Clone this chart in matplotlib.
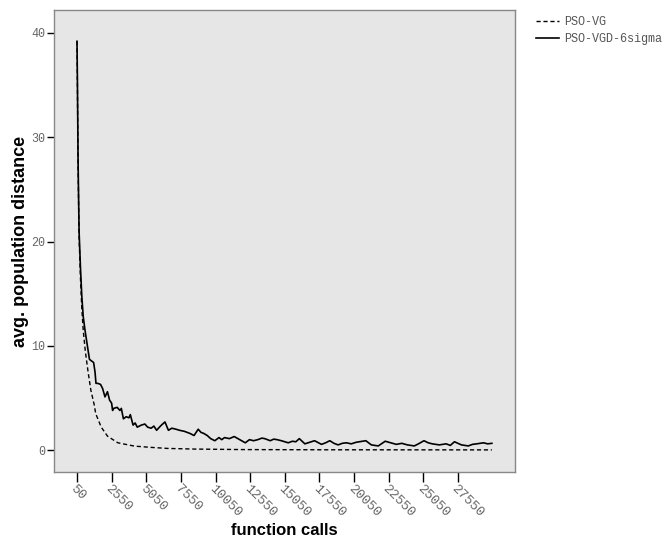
import matplotlib
matplotlib.use("Agg")
import matplotlib.pyplot as plt

# PSO-VGD-6sigma (solid)
calls_solid = [50, 80, 130, 200, 300, 400, 500, 628, 800, 950, 1050, 1250, 1350, 1420, 1550, 1750,
               1900, 2070, 2250, 2400, 2550, 2620, 2700, 2950, 3150, 3250, 3400, 3600, 3800, 3900,
               4100, 4250, 4400, 4700, 4950, 5150, 5400, 5600, 5800, 6000, 6150, 6400, 6650, 6900,
               7200, 7450, 7800, 8200, 8500, 8800, 9000, 9200, 9450,
               9700, 10000, 10300, 10500, 10700, 11050, 11400, 11800, 12200, 12500, 12800, 13100,
               13400, 13600, 14000, 14250,
               14500, 14800, 15300, 15600, 15850, 16100, 16500, 16850, 17200, 17700, 18000, 18300,
               18600, 18900, 19200, 19500, 19850, 20200,
               20900, 21300, 21800, 22300, 22700, 23100, 23500, 23900, 24400, 24700, 25100, 25400,
               25700, 26200, 26700, 27000, 27300,
               27800, 28300, 28600, 28900, 29400, 29700, 30000]
dist_solid = [39.2, 35.5, 27.5, 21.0, 17.5, 14.7, 12.8, 11.5, 10.0, 8.7, 8.6, 8.4, 7.5, 6.4, 6.4, 6.3,
              5.9, 5.1, 5.6, 4.8, 4.5, 3.8, 4.0, 4.1, 3.8, 4.0, 3.0, 3.2, 3.1, 3.4,
              2.4, 2.6, 2.2, 2.4, 2.5, 2.2, 2.1, 2.3, 1.9, 2.2, 2.4, 2.7, 1.9, 2.1,
              2.0, 1.9, 1.8, 1.6, 1.4, 2.0, 1.7, 1.6, 1.4,
              1.1, 0.9, 1.2, 1.0, 1.2, 1.1, 1.3, 1.0, 0.7, 1.0, 0.9, 1.0,
              1.15, 1.1, 0.9, 1.05,
              1.0, 0.9, 0.7, 0.85, 0.8, 1.1, 0.6, 0.75, 0.9, 0.55, 0.7, 0.9,
              0.65, 0.5, 0.65, 0.7, 0.6, 0.75,
              0.9, 0.5, 0.4, 0.85, 0.7, 0.55, 0.65, 0.5, 0.4, 0.6, 0.9, 0.7,
              0.6, 0.5, 0.6, 0.45, 0.8,
              0.5, 0.4, 0.55, 0.6, 0.7, 0.6, 0.65]

# PSO-VG (dashed)
calls_dash = [50, 80, 130, 200, 300, 400, 500, 650, 850, 1050, 1300, 1400, 1800, 2250, 3000, 4200,
              5400, 6600, 8500, 12000, 18000, 30000]
dist_dash = [39.2, 35.0, 27.0, 20.5, 16.5, 13.5, 11.5, 9.5, 7.5, 5.75, 4.3, 3.5, 2.2, 1.34, 0.7, 0.38,
             0.26, 0.16, 0.1, 0.05, 0.03, 0.02]

xticks = list(range(50, 30000, 2500))
yticks = [0, 10, 20, 30, 40]

fig = plt.figure(figsize=(6.65, 5.41), dpi=100)
ax = fig.add_axes([54/665, 1-472/541, (515-54)/665, (472-10)/541])
ax.set_facecolor("#e6e6e6")
ax.plot(calls_dash, dist_dash, color="black", lw=1.0, ls=(0, (3, 2)), label="PSO-VG")
ax.plot(calls_solid, dist_solid, color="black", lw=1.2, label="PSO-VGD-6sigma")

ax.set_xlim(-1610, 31670)
ax.set_ylim(-2.1, 42.2)
ax.set_xticks(xticks)
ax.set_yticks(yticks)
ax.set_xticklabels([str(t) for t in xticks], rotation=-45, ha="left", va="top",
                   rotation_mode="anchor", family="Liberation Mono", fontsize=9.5, color="#666666")
ax.set_yticklabels([str(t) for t in yticks], family="Liberation Mono", fontsize=8.5, color="#666666")
ax.tick_params(axis="x", length=7, width=1, color="black", direction="out", pad=1)
ax.tick_params(axis="y", length=5, width=1, color="black", direction="out", pad=1)
for s in ax.spines.values():
    s.set_color("#888888")
    s.set_linewidth(1.0)

ax.set_xlabel("function calls", family="Liberation Sans", fontsize=12, fontweight="bold")
ax.set_ylabel("avg. population distance", family="Liberation Sans", fontsize=13, fontweight="bold")
ax.xaxis.set_label_coords(0.5, (472 - 523) / 462)
ax.yaxis.set_label_coords((29 - 54) / 461, 0.5)

leg = fig.legend(loc="upper left", bbox_to_anchor=(531/665, 1-11/541), frameon=False,
                 prop={"family": "Liberation Mono", "size": 8.5}, handlelength=2.0,
                 handletextpad=0.4, labelspacing=0.45, borderaxespad=0)
for t in leg.get_texts():
    t.set_color("#555555")

fig.savefig("out.png", dpi=100)
